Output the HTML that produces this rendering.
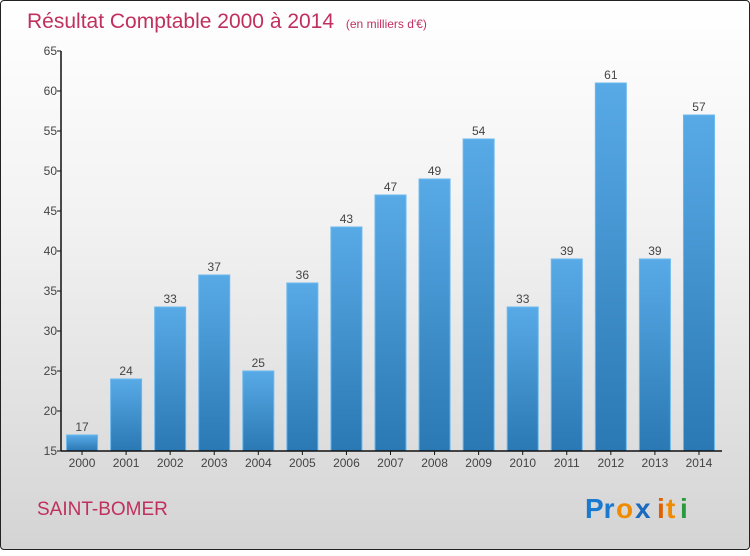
<!DOCTYPE html>
<html><head><meta charset="utf-8"><style>
body{margin:0;width:750px;height:550px;overflow:hidden}
#c{position:absolute;left:0;top:0;width:748px;height:548px;border:1px solid #222;border-radius:4px;background:linear-gradient(#ffffff 0%,#f2f2f2 40%,#d4d4d4 100%);font-family:"Liberation Sans",sans-serif}
</style></head><body>
<div id="c">
<svg width="750" height="550">
<defs><linearGradient id="bg" x1="0" y1="0" x2="0" y2="1"><stop offset="0" stop-color="#58aae6"/><stop offset="1" stop-color="#2a78b4"/></linearGradient></defs>
<text x="26" y="27" font-size="21" fill="#c0305e">Résultat Comptable 2000 à 2014 <tspan font-size="12" dx="6">(en milliers d'€)</tspan></text>
<g id="yax"></g>
<g id="bars"></g>
<g id="xax"></g>
<text x="36" y="514" font-size="19" fill="#c0305e">SAINT-BOMER</text>
<g font-size="28" font-weight="bold" font-family="'Liberation Sans',sans-serif">
<text x="584" y="517" fill="#1a7ad0">Pr</text><text x="615" y="517" fill="#f08a00">o</text><text x="634" y="517" fill="#1a6ac0">x</text><text x="656" y="517" fill="#e06000">i</text><text x="665" y="517" fill="#f08a00">t</text><text x="679" y="517" fill="#2a9a40">i</text>
</g>
</svg></div>
<script>
const years=["2000","2001","2002","2003","2004","2005","2006","2007","2008","2009","2010","2011","2012","2013","2014"];
const values=[17,24,33,37,25,36,43,47,49,54,33,39,61,39,57];
const yTicks=[15,20,25,30,35,40,45,50,55,60,65];
const NS="http://www.w3.org/2000/svg";
const x0=60,x1=721,yb=450,yt=50,ymin=15,ymax=65;
const y=v=>yb-(v-ymin)/(ymax-ymin)*(yb-yt);
const step=(x1-x0)/years.length;
const xc=i=>x0+step*(i+0.5)-1;
function mk(t,a,p){const e=document.createElementNS(NS,t);for(const k in a)e.setAttribute(k,a[k]);p.appendChild(e);return e;}
const ya=document.getElementById('yax'),ba=document.getElementById('bars'),xa=document.getElementById('xax');
let l=mk('line',{x1:x0,y1:yt,x2:x0,y2:yb,stroke:'#111','stroke-width':1.5},ya);


yTicks.forEach(v=>{
 let t=mk('line',{x1:x0-4,y1:y(v),x2:x0,y2:y(v),stroke:'#111'},ya);
 
 
 let tx=mk('text',{x:x0-4,y:y(v)+4,'text-anchor':'end','font-size':12,fill:'#444'},ya);
 tx.textContent=v;
 
 
});
values.forEach((v,i)=>{
 const w=31;
 let r=mk('rect',{x:xc(i)-w/2,y:y(v),width:w,height:yb-y(v),fill:'url(#bg)',stroke:'#6ab8ee','stroke-width':1},ba);
 
 
 let t=mk('text',{x:xc(i),y:y(v)-4,'text-anchor':'middle','font-size':12,fill:'#444'},ba);
 t.textContent=v;
 
 
 let tk=mk('line',{x1:xc(i),y1:yb,x2:xc(i),y2:yb+4,stroke:'#111'},xa);
 
 
 let xl=mk('text',{x:xc(i),y:yb+16,'text-anchor':'middle','font-size':12,fill:'#444'},xa);
 xl.textContent=years[i];
 
 
});
let xl=mk('line',{x1:x0,y1:yb,x2:x1,y2:yb,stroke:'#111','stroke-width':1.5},xa);


</script>
</body></html>
